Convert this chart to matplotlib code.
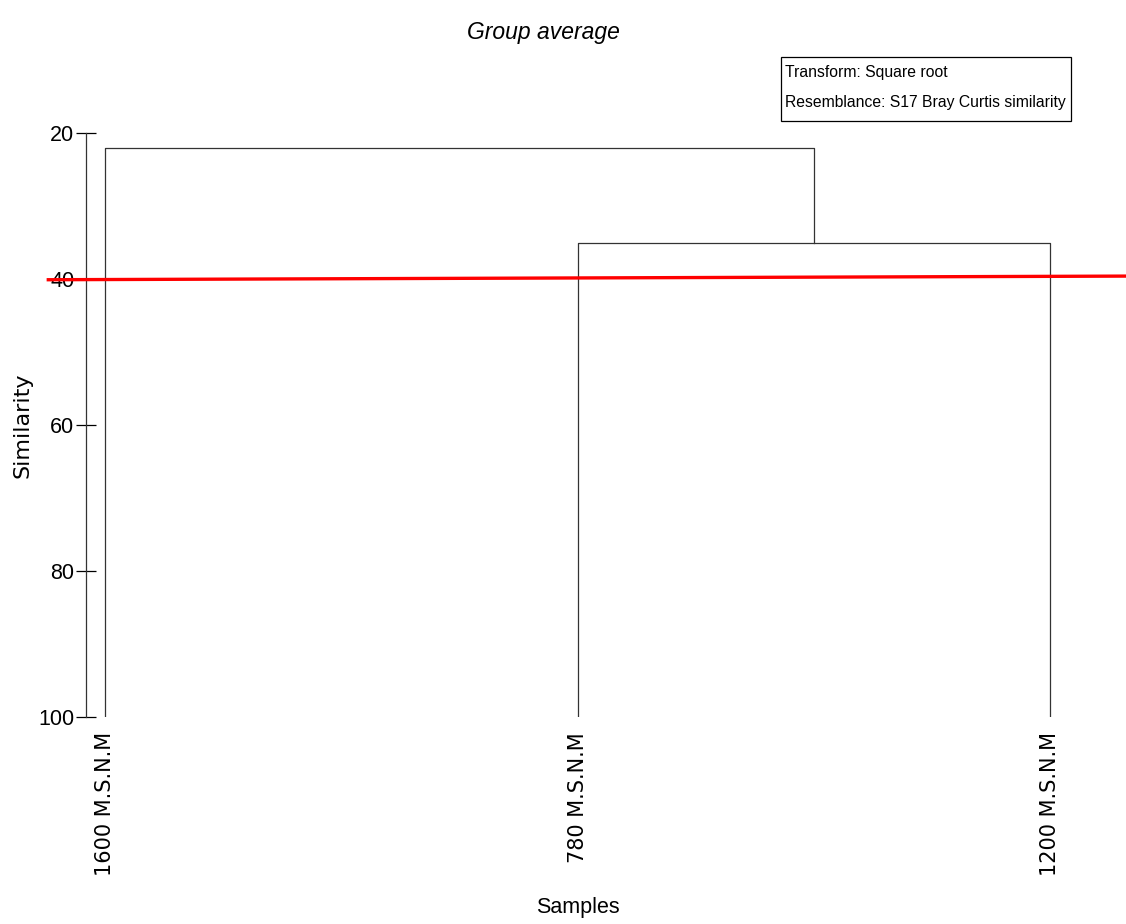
import numpy as np
import matplotlib
matplotlib.use("Agg")
import matplotlib.pyplot as plt
from matplotlib.patches import Rectangle

plt.rcParams['font.family'] = ['Liberation Sans', 'DejaVu Sans']

# muestras (hojas del dendrograma) y alturas de fusión (similitud %)
samples = ["1600 M.S.N.M", "780 M.S.N.M", "1200 M.S.N.M"]
merge_pair = [1, 2]        # 780 y 1200 se unen primero
merge_low = 35.1           # similitud de la primera fusión
merge_top = 22.1           # similitud de la fusión final
cut_level = [40.1, 39.6]   # línea de corte (inicio, fin)
yticks = [20, 40, 60, 80, 100]

W, H = 1126, 924
fig = plt.figure(figsize=(W / 100, H / 100), dpi=100)
ax = fig.add_axes([86 / W, 1 - 717 / H, (1100 - 86) / W, (717 - 133) / H])

leaf_x = np.arange(len(samples))
base = 100
lc = "#333333"

# grupo 780 / 1200
a, b = merge_pair
ax.plot([leaf_x[a], leaf_x[a], leaf_x[b], leaf_x[b]],
        [base, merge_low, merge_low, base], color=lc, lw=0.9)
mid = (leaf_x[a] + leaf_x[b]) / 2
# unión con 1600
ax.plot([leaf_x[0], leaf_x[0], mid, mid],
        [base, merge_top, merge_top, merge_low], color=lc, lw=0.9)

# línea de corte en rojo
ax.plot([-0.12, 2.17], cut_level, color="red", lw=2.4, clip_on=False, zorder=5)

ax.set_xlim(-19 / 472.5, 2 + 50 / 472.5)
ax.set_ylim(100, 20)
ax.set_yticks(yticks)
ax.tick_params(axis='y', direction='inout', length=15, width=0.9, labelsize=15.5, pad=1, colors='black')
ax.set_xticks(leaf_x)
ax.set_xticklabels(samples, rotation=90, fontsize=15, va='top', family=['DejaVu Sans'])
ax.tick_params(axis='x', length=0, pad=11)
for s in ['top', 'right', 'bottom']:
    ax.spines[s].set_visible(False)
ax.spines['left'].set_linewidth(0.9)
ax.spines['left'].set_color(lc)

fig.text(22 / W, 1 - 425 / H, "Similarity", fontsize=16, rotation=90,
         ha='center', va='center', family=['DejaVu Sans'])
fig.text(578 / W, 1 - 908 / H, "Samples", fontsize=15.5, ha='center', va='center')

fig.text(543 / W, 1 - 33 / H, "Group average", fontsize=16.5, style='italic',
         ha='center', va='center')

# recuadro con la transformación y la medida de semejanza
fig.patches.append(Rectangle((781 / W, 1 - 121 / H), 290 / W, 64 / H,
                             transform=fig.transFigure, fill=False, ec='black', lw=0.9))
fig.text(785 / W, 1 - 72 / H, "Transform: Square root", fontsize=11.3,
         ha='left', va='center')
fig.text(785 / W, 1 - 103 / H, "Resemblance: S17 Bray Curtis similarity", fontsize=11.3,
         ha='left', va='center')

fig.savefig("out.png", dpi=100)
